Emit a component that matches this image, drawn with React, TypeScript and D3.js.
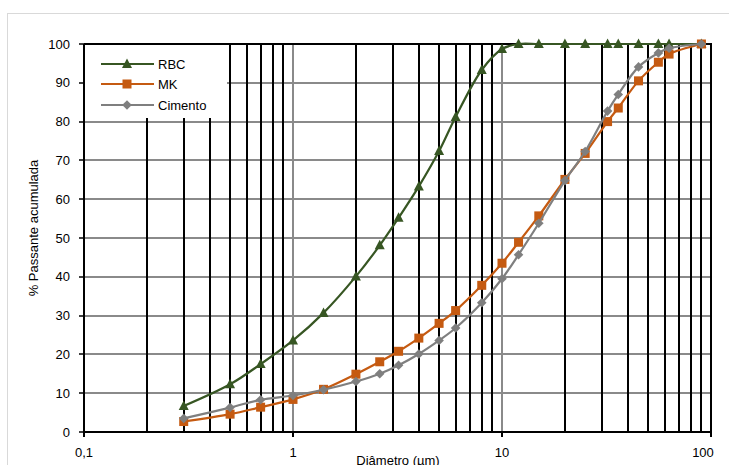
import React from "react";
import * as d3 from "d3";

const sizes = [0.3, 0.5, 0.7, 1, 1.4, 2, 2.6, 3.2, 4, 5, 6, 8, 10, 12, 15, 20, 25, 32, 36, 45, 56, 63, 90];
const rbc = [6.7, 12.3, 17.5, 23.6, 30.7, 40.1, 48.1, 55.2, 63.3, 72.4, 81.2, 93.3, 98.7, 100, 100, 100, 100, 100, 100, 100, 100, 100, 100];
const mk = [2.7, 4.6, 6.4, 8.4, 11.0, 14.9, 18.1, 20.8, 24.2, 28.0, 31.3, 37.8, 43.5, 48.9, 55.7, 65.1, 71.8, 80.0, 83.5, 90.5, 95.3, 97.4, 100];
const cimento = [3.5, 6.3, 8.3, 9.4, 10.9, 13.0, 15.0, 17.2, 20.1, 23.6, 26.8, 33.3, 39.5, 45.7, 53.8, 64.8, 72.3, 82.7, 87.0, 94.1, 97.7, 98.9, 100];
const seriesNames = ["RBC", "MK", "Cimento"];
const seriesColors = ["#375623", "#C55A11", "#7F7F7F"];
const yTicks = [0, 10, 20, 30, 40, 50, 60, 70, 80, 90, 100];
const xMajor = [0.1, 1, 10, 100];
const xMajorLabels = ["0,1", "1", "10", "100"];

const W = 729, H = 465;
const L = 84, R = 711, T = 44, B = 432;
const FONT = "'Liberation Sans', Arial, sans-serif";

function Marker({ kind, x, y, color }: { kind: number; x: number; y: number; color: string }) {
  if (kind === 0) {
    const s = 5;
    return <path d={`M${x},${y - s - 0.5}L${x + s},${y + s * 0.8}L${x - s},${y + s * 0.8}Z`} fill={color} />;
  }
  if (kind === 1) {
    return <rect x={x - 4.5} y={y - 4.5} width={9} height={9} fill={color} />;
  }
  const s = 4.8;
  return <path d={`M${x},${y - s}L${x + s},${y}L${x},${y + s}L${x - s},${y}Z`} fill={color} />;
}

export default function App() {
  const x = d3.scaleLog().domain([0.1, 100]).range([L, R]);
  const y = d3.scaleLinear().domain([0, 100]).range([B, T]);
  const px = (v: number) => Math.round(v);
  const data = [rbc, mk, cimento];
  const line = d3
    .line<number>()
    .x((_, i) => x(sizes[i]))
    .y((d) => y(d))
    .curve(d3.curveCatmullRom.alpha(0.5));

  const minors: number[] = [];
  for (const dec of [0.1, 1, 10]) for (let k = 2; k <= 9; k++) minors.push(dec * k);

  const legendY = [64, 84, 105];

  return (
    <svg width={W} height={H} style={{ position: "absolute", left: 0, top: 0, background: "#fff" }} fontFamily={FONT}>
      <rect x={7.5} y={13.5} width={740} height={470} fill="#fff" stroke="#d9d9d9" strokeWidth={1} />
      {/* horizontal gridlines */}
      {yTicks.map((t) => (
        <line key={"h" + t} x1={L} x2={R} y1={px(y(t))} y2={px(y(t))} stroke="#8a8a8a" strokeWidth={2} />
      ))}
      {/* major vertical gridlines */}
      {xMajor.slice(1, 3).map((t) => (
        <line key={"vM" + t} x1={px(x(t))} x2={px(x(t))} y1={T} y2={B} stroke="#8a8a8a" strokeWidth={2} />
      ))}
      {/* minor vertical gridlines */}
      {minors.map((t) => (
        <line key={"vm" + t} x1={px(x(t))} x2={px(x(t))} y1={T} y2={B} stroke="#000" strokeWidth={2} />
      ))}
      {/* legend background */}
      <rect x={85} y={45} width={142} height={73} fill="#fff" />
      {/* frame */}
      <line x1={L} x2={R + 1} y1={T} y2={T} stroke="#000" strokeWidth={2} />
      <line x1={R} x2={R} y1={T} y2={B} stroke="#000" strokeWidth={2} />
      <line x1={L} x2={L} y1={T} y2={B} stroke="#000" strokeWidth={2} />
      <line x1={L - 1} x2={R + 1} y1={B} y2={B} stroke="#000" strokeWidth={2} />
      {/* y ticks */}
      {yTicks.map((t) => (
        <g key={"yt" + t}>
          <line x1={L - 5} x2={L} y1={px(y(t))} y2={px(y(t))} stroke="#000" strokeWidth={1.5} />
          <text x={70} y={y(t)} dy="0.35em" textAnchor="end" fontSize={13} fill="#000">
            {t}
          </text>
        </g>
      ))}
      {/* x ticks */}
      {xMajor.map((t, i) => (
        <g key={"xt" + t}>
          <line x1={px(x(t))} x2={px(x(t))} y1={B} y2={B + 5} stroke="#000" strokeWidth={2} />
          <text x={x(t) - (i === 3 ? 8 : 0)} y={452} dy="0.35em" textAnchor="middle" fontSize={13} fill="#000">
            {xMajorLabels[i]}
          </text>
        </g>
      ))}
      <text x={398} y={465} textAnchor="middle" fontSize={13} fill="#000">
        Diâmetro (µm)
      </text>
      <text transform={`translate(38,${(T + B) / 2 - 10}) rotate(-90)`} textAnchor="middle" fontSize={13} fill="#000">
        % Passante acumulada
      </text>
      {/* series */}
      {data.map((d, si) => (
        <g key={"s" + si}>
          <path d={line(d) || ""} fill="none" stroke={seriesColors[si]} strokeWidth={2.2} />
          {d.map((v, i) => (
            <Marker key={i} kind={si} x={x(sizes[i])} y={y(v)} color={seriesColors[si]} />
          ))}
        </g>
      ))}
      {/* legend */}
      {seriesNames.map((n, i) => (
        <g key={"lg" + n}>
          <line x1={101} x2={154} y1={legendY[i]} y2={legendY[i]} stroke={seriesColors[i]} strokeWidth={2.2} />
          <Marker kind={i} x={127} y={legendY[i]} color={seriesColors[i]} />
          <text x={158} y={legendY[i]} dy="0.35em" fontSize={13} fill="#000">
            {n}
          </text>
        </g>
      ))}
    </svg>
  );
}
